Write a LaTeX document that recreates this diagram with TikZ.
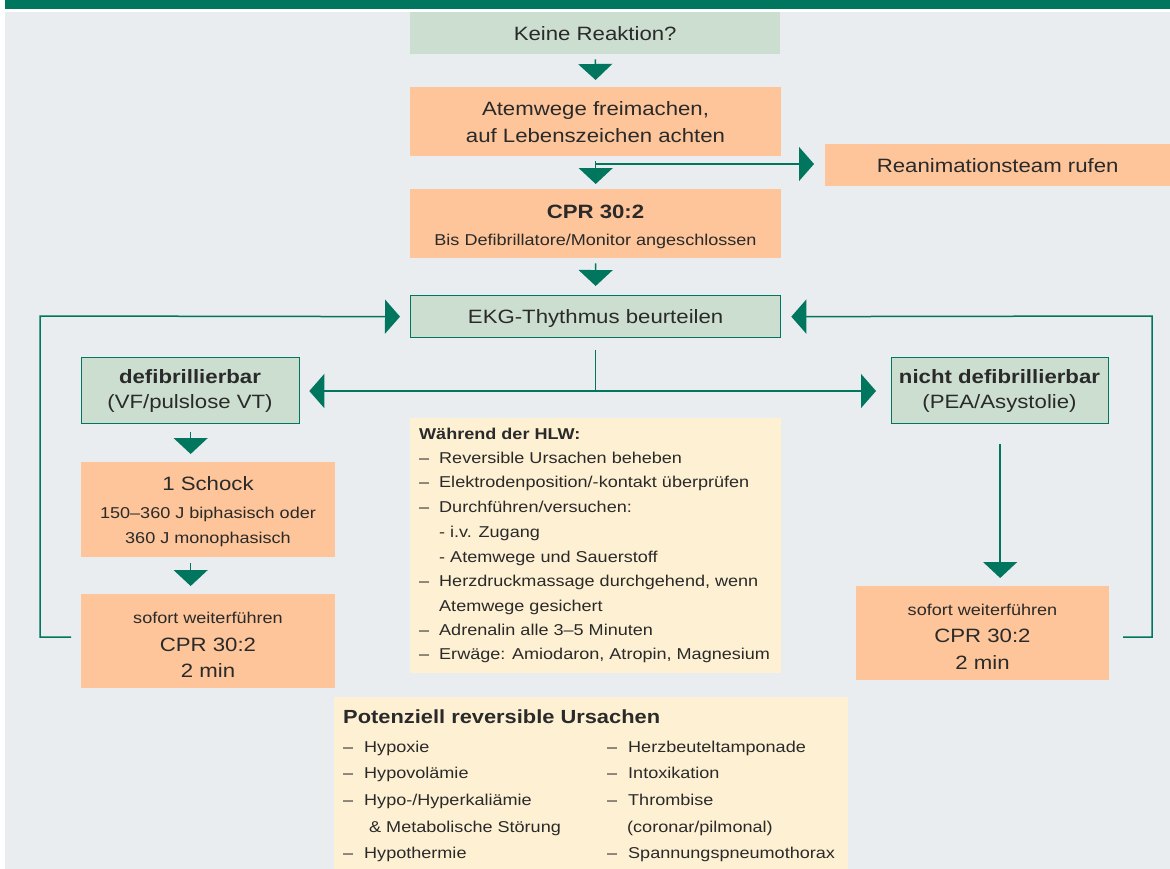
\documentclass[tikz,border=0pt]{standalone}
\usepackage{fontspec}
\setmainfont{Liberation Sans}[FakeStretch=1.15]
\usetikzlibrary{arrows.meta}
\definecolor{bandgreen}{HTML}{00765E}
\definecolor{lgreen}{HTML}{CCDECF}
\definecolor{oran}{HTML}{FDC599}
\definecolor{cream}{HTML}{FEF0D2}
\definecolor{bggrey}{HTML}{E9EDF0}
\definecolor{txt}{HTML}{2A2A2A}
\newcommand\fbig{\fontsize{19.3}{24}\selectfont}
\newcommand\fmed{\fontsize{15.7}{20}\selectfont}
\begin{document}
\begin{tikzpicture}[x=1pt,y=-1pt,
  box/.style={rectangle, inner sep=0pt, anchor=north west, text=txt, font=\fbig, text height=13.8pt, text depth=0pt},
  obox/.style={box, fill=oran},
  gbox/.style={box, fill=lgreen},
  gboxb/.style={gbox, draw=bandgreen, line width=1.3pt},
  cbox/.style={box, fill=cream},
  lbl/.style={inner sep=0pt, anchor=base, text=txt},
  lblw/.style={inner sep=0pt, anchor=base west, text=txt, font=\fmed},
  lblp/.style={inner sep=0pt, anchor=base west, text=txt, font=\fmed},
  conn/.style={draw=bandgreen, line width=1.5pt},
  arrowconn/.style={conn, -{Triangle[width=34pt,length=15pt]}},
  flow/.style={conn, -{Triangle[width=34pt,length=16pt]}}
]
\useasboundingbox (0,0) rectangle (1170,868);
\fill[white] (0,0) rectangle (1170,868);
\fill[bandgreen] (5,0) rectangle (1170,9);
\fill[bggrey] (5,12) rectangle (1170,868.5);

% boxes
\node[gbox, minimum width=370pt, minimum height=42pt] (keine) at (410,12) {Keine Reaktion?};
\node[obox, minimum width=371pt, minimum height=69pt] (atem) at (410,87) {};
\node[obox, minimum width=345pt, minimum height=42pt] (rean) at (825,144) {Reanimationsteam rufen};
\node[obox, minimum width=371pt, minimum height=69pt] (cpr) at (410,189) {};
\node[gboxb, minimum width=370pt, minimum height=42pt] (ekg) at (410,295) {EKG-Thythmus beurteilen};
\node[gboxb, minimum width=218pt, minimum height=66pt] (defib) at (81,357) {};
\node[gboxb, minimum width=217pt, minimum height=66pt] (ndef) at (891,357) {};
\node[obox, minimum width=254pt, minimum height=95pt] (schock) at (81,462) {};
\node[obox, minimum width=254pt, minimum height=94pt] (sofL) at (81,594) {};
\node[obox, minimum width=253pt, minimum height=94pt] (sofR) at (856,586) {};
\node[cbox, minimum width=371pt, minimum height=255pt] (hlw) at (410,418) {};
\node[cbox, minimum width=514pt, minimum height=172pt] (pot) at (334,697) {};

% texts in boxes
\node[lbl, font=\fbig] (atemA) at (595.5,115) {Atemwege freimachen,};
\node[lbl, font=\fbig] (atemB) at (595.5,142) {auf Lebenszeichen achten};
\node[lbl, font=\fbig\bfseries] (cprA) at (595.5,218) {CPR 30:2};
\node[lbl, font=\fmed] (cprB) at (595.5,245) {Bis Defibrillatore/Monitor angeschlossen};
\node[lbl, font=\fbig\bfseries] (defibA) at (190,383) {defibrillierbar};
\node[lbl, font=\fbig] (defibB) at (190,408) {(VF/pulslose VT)};
\node[lbl, font=\fbig\bfseries] (ndefA) at (999.5,383) {nicht defibrillierbar};
\node[lbl, font=\fbig] (ndefB) at (999.5,408) {(PEA/Asystolie)};
\node[lbl, font=\fbig] (schockA) at (208,490) {1 Schock};
\node[lbl, font=\fmed] (schockB) at (208,518) {150–360 J biphasisch oder};
\node[lbl, font=\fmed] (schockC) at (208,543) {360 J monophasisch};
\node[lbl, font=\fmed] (sofLA) at (208,623) {sofort weiterführen};
\node[lbl, font=\fbig] (sofLB) at (208,651) {CPR 30:2};
\node[lbl, font=\fbig] (sofLC) at (208,677) {2 min};
\node[lbl, font=\fmed] (sofRA) at (982.5,615) {sofort weiterführen};
\node[lbl, font=\fbig] (sofRB) at (982.5,642) {CPR 30:2};
\node[lbl, font=\fbig] (sofRC) at (982.5,669) {2 min};

% Waehrend der HLW
\node[lblw, font=\fmed\bfseries] (hlwT) at (419,439) {Während der HLW:};
\node[lblw] (hd1) at (419,463) {–};
\node[lblw] (ht1) at (439,463) {Reversible Ursachen beheben};
\node[lblw] (hd2) at (419,487) {–};
\node[lblw] (ht2) at (439,487) {Elektrodenposition/-kontakt überprüfen};
\node[lblw] (hd3) at (419,512) {–};
\node[lblw] (ht3) at (439,512) {Durchführen/versuchen:};
\node[lblw] (ht4) at (439,537) {- i.v. Zugang};
\node[lblw] (ht5) at (439,562) {- Atemwege und Sauerstoff};
\node[lblw] (hd6) at (419,586) {–};
\node[lblw] (ht6) at (439,586) {Herzdruckmassage durchgehend, wenn};
\node[lblw] (ht7) at (439,611) {Atemwege gesichert};
\node[lblw] (hd8) at (419,635) {–};
\node[lblw] (ht8) at (439,635) {Adrenalin alle 3–5 Minuten};
\node[lblw] (hd9) at (419,659) {–};
\node[lblw] (ht9) at (439,659) {Erwäge: Amiodaron, Atropin, Magnesium};

% Potenziell reversible Ursachen
\node[lblp, font=\fontsize{19}{24}\selectfont\bfseries] (potT) at (343,723) {Potenziell reversible Ursachen};
\node[lblp] (pl1d) at (343,752) {–};
\node[lblp] (pl1) at (364,752) {Hypoxie};
\node[lblp] (pl2d) at (343,778) {–};
\node[lblp] (pl2) at (364,778) {Hypovolämie};
\node[lblp] (pl3d) at (343,805) {–};
\node[lblp] (pl3) at (364,805) {Hypo-/Hyperkaliämie};
\node[lblp] (pl4) at (369,832) {\& Metabolische Störung};
\node[lblp] (pl5d) at (343,858) {–};
\node[lblp] (pl5) at (364,858) {Hypothermie};
\node[lblp] (pr1d) at (607,752) {–};
\node[lblp] (pr1) at (628,752) {Herzbeuteltamponade};
\node[lblp] (pr2d) at (607,778) {–};
\node[lblp] (pr2) at (628,778) {Intoxikation};
\node[lblp] (pr3d) at (607,805) {–};
\node[lblp] (pr3) at (628,805) {Thrombise};
\node[lblp] (pr4) at (627,832) {(coronar/pilmonal)};
\node[lblp] (pr5d) at (607,858) {–};
\node[lblp] (pr5) at (628,858) {Spannungspneumothorax};

% connectors
\draw[flow, shorten <=5pt, shorten >=7pt] (keine.south) -- (atem.north);
\draw[flow, shorten <=5pt, shorten >=5pt] (atem.south) -- (cpr.north);
\coordinate (rj) at (595.5,164);
\draw[arrowconn, shorten >=11pt] (rj) -- (rean.west |- rj);
\draw[flow, shorten <=5pt, shorten >=9pt] (cpr.south) -- (ekg.north);

\coordinate (mtop) at (595.5,350);
\coordinate (mj) at (595.5,391);
\draw[conn] (mtop) -- (mj);
\draw[arrowconn, shorten >=9pt] (mj) -- (defib.east |- mj);
\draw[arrowconn, shorten >=15pt] (mj) -- (ndef.west |- mj);

\coordinate (la) at (71,637);
\coordinate (lb) at (40,316);
\draw[arrowconn, shorten >=10pt] (la) -| (lb) -- (ekg.west);
\coordinate (ra) at (1123,637);
\coordinate (rb) at (1152,316);
\draw[arrowconn, shorten >=10pt] (ra) -| (rb) -- (ekg.east);

\draw[flow, shorten <=8pt, shorten >=8pt] (defib.south) -- (defib.south |- schock.north);
\draw[flow, shorten <=6pt, shorten >=8pt] (schock.south -| defib.south) -- (sofL.north -| defib.south);
\draw[flow, shorten <=20pt, shorten >=8pt] (ndef.south) -- (ndef.south |- sofR.north);
\end{tikzpicture}
\end{document}
